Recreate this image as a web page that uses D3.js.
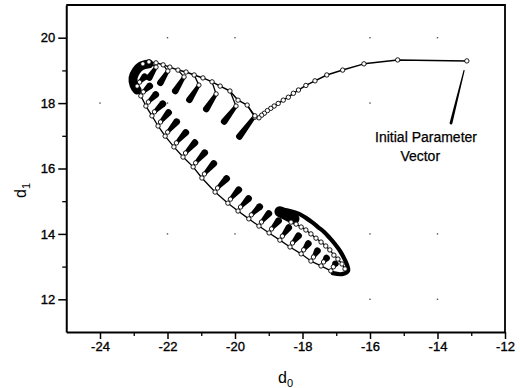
<!DOCTYPE html>
<html>
<head>
<meta charset="utf-8">
<script src="https://cdn.jsdelivr.net/npm/d3@7/dist/d3.min.js"></script>
<style>
  html, body { margin: 0; padding: 0; background: #fff; }
  svg { display: block; font-family: Arial, "Liberation Sans", sans-serif; }
</style>
</head>
<body>
<svg id="chart" width="520" height="388"></svg>
<script>

// Axis ticks
const xMajor = [-24, -22, -20, -18, -16, -14, -12],
      xMinor = [-23, -21, -19, -17, -15, -13],
      yMajor = [12, 14, 16, 18, 20],
      yMinor = [13, 15, 17, 19];

// Grid dots that show in the plot
const gridD0 = [-22, -20, -16, -14, -24, -22, -16, -22, -20, -16, -14, -16, -14],
      gridD1 = [20, 20, 20, 20, 18, 18, 18, 14, 14, 14, 14, 12, 12];

// Path from the initial parameter vector down to the oscillating region
const approachD0 = [-13.13, -15.18, -16.18, -16.81, -17.28, -17.63, -17.90, -18.12, -18.27, -18.42,
                    -18.57, -18.72, -18.84, -18.94, -19.04, -19.13, -19.21, -19.29];
const approachD1 = [19.29, 19.32, 19.20, 19.01, 18.86, 18.68, 18.54, 18.40, 18.30, 18.18,
                    18.09, 17.99, 17.91, 17.84, 17.77, 17.69, 17.63, 17.55];

// Upper edge of the big loop (open circles), right to left
const upperEdgeD0 = [-19.41, -19.64, -19.91, -20.15, -20.44, -20.68, -20.95, -21.21, -21.45, -21.69,
                     -21.93, -22.13, -22.34, -22.55, -22.73];
const upperEdgeD1 = [17.57, 17.94, 18.09, 18.37, 18.52, 18.65, 18.77, 18.86, 18.95, 19.01,
                     19.10, 19.17, 19.23, 19.26, 19.20];

// Upper teeth: top point, root of dense run, tip of dense run
const upperTopD0  = [-19.64, -20.15, -20.68, -21.21, -21.69, -22.13, -22.55];
const upperTopD1  = [17.94, 18.37, 18.65, 18.86, 19.01, 19.17, 19.26];
const upperRootD0 = [-19.41, -19.97, -20.56, -21.07, -21.51, -21.99, -22.34];
const upperRootD1 = [17.61, 17.91, 18.28, 18.55, 18.80, 18.98, 19.10];
const upperTipD0  = [-19.87, -20.32, -20.85, -21.35, -21.77, -22.21, -22.54];
const upperTipD1  = [16.98, 17.44, 17.82, 18.10, 18.37, 18.62, 18.78];

// Dense turn at the far left of the loop
const turnD0 = [-22.55, -22.79, -22.93, -23.02, -22.99, -22.90];
const turnD1 = [19.20, 19.13, 18.98, 18.77, 18.55, 18.40];

// Lower edge teeth: base (open circles) and tip of dense run
const lowerBaseD0 = [-22.90, -22.79, -22.64, -22.46, -22.28, -22.07, -21.81, -21.54, -21.24, -20.98, -20.59,
                     -20.21, -19.91, -19.59, -19.29, -18.99, -18.67, -18.37, -18.04, -17.75, -17.45, -17.16];
const lowerBaseD1 = [18.52, 18.22, 17.91, 17.61, 17.30, 16.99, 16.66, 16.35, 16.05, 15.71, 15.28,
                     14.94, 14.70, 14.46, 14.24, 14.03, 13.81, 13.60, 13.39, 13.17, 13.02, 12.87];
const lowerTipD0  = [-22.68, -22.53, -22.35, -22.14, -21.97, -21.73, -21.46, -21.19, -20.90, -20.63, -20.25,
                     -19.89, -19.60, -19.27, -19.00, -18.71, -18.41, -18.12, -17.83, -17.56, -17.29, -17.03];
const lowerTipD1  = [18.80, 18.52, 18.26, 17.98, 17.71, 17.43, 17.10, 16.79, 16.48, 16.15, 15.69,
                     15.35, 15.08, 14.83, 14.62, 14.40, 14.19, 13.94, 13.70, 13.48, 13.26, 13.08];

// Final narrow loop: dense outer band, head and returning open circles
const bandD0 = [-18.70, -18.37, -18.10, -17.90, -17.72, -17.54, -17.36, -17.19, -17.04, -16.89,
                -16.77, -16.68, -16.65, -16.83, -17.10];
const bandD1 = [14.76, 14.70, 14.61, 14.49, 14.36, 14.21, 14.06, 13.87, 13.69, 13.48,
                13.26, 13.05, 12.87, 12.77, 12.80];
const headD0 = [-18.67, -18.25];
const headD1 = [14.68, 14.46];
const returnD0 = [-16.74, -16.83, -16.95, -17.07, -17.19, -17.31, -17.45, -17.60, -17.75, -17.90,
                  -18.04, -18.19, -18.34];
const returnD1 = [12.93, 13.08, 13.23, 13.35, 13.51, 13.63, 13.75, 13.87, 14.00, 14.12,
                  14.21, 14.30, 14.36];

// Annotation
const noteLines = ["Initial Parameter", "Vector"];

const svg = d3.select("#chart");

const x = d3.scaleLinear().domain([-25, -12]).range([66.25, 505]),
      y = d3.scaleLinear().domain([11, 21]).range([332, 5]);

const zip = (a, b) => a.map((v, i) => [x(v), y(b[i])]);
const line = d3.line();

// Tapered dense run: thin at root, thick with a round end at the tip
function taper(r, t, w0, w1) {
    const dx = t[0] - r[0], dy = t[1] - r[1], len = Math.hypot(dx, dy) || 1;
    const nx = -dy / len, ny = dx / len;
    return `M${r[0] + nx * w0},${r[1] + ny * w0}L${t[0] + nx * w1},${t[1] + ny * w1}` +
           `A${w1},${w1} 0 1 0 ${t[0] - nx * w1},${t[1] - ny * w1}` +
           `L${r[0] - nx * w0},${r[1] - ny * w0}Z`;
}

// Grid dots
svg.append("g").selectAll("rect").data(zip(gridD0, gridD1)).enter().append("rect")
    .attr("x", d => d[0] - 0.7).attr("y", d => d[1] - 0.7)
    .attr("width", 1.4).attr("height", 1.4).attr("fill", "#555");

// Axes
const axisFont = g => g.attr("font-size", 13).attr("font-family", "Arial, 'Liberation Sans', sans-serif");
const inkText = g => g.selectAll("text").attr("fill", "#000").attr("stroke", "#000").attr("stroke-width", 0.35);

svg.append("g").attr("transform", `translate(0,${y(11)})`)
    .call(d3.axisBottom(x).tickValues(xMajor).tickSize(7).tickSizeOuter(0).tickPadding(3).tickFormat(d => String(d)))
    .call(axisFont)
    .call(g => g.select(".domain").attr("stroke-width", 2))
    .call(g => g.selectAll(".tick line").attr("stroke-width", 1.5))
    .call(inkText);
svg.append("g").attr("transform", `translate(0,${y(11)})`)
    .call(d3.axisBottom(x).tickValues(xMinor).tickSize(4).tickSizeOuter(0).tickFormat(""))
    .call(g => g.select(".domain").remove())
    .call(g => g.selectAll(".tick line").attr("stroke-width", 1.3));

svg.append("g").attr("transform", `translate(${x(-25)},0)`)
    .call(d3.axisLeft(y).tickValues(yMajor).tickSize(8).tickSizeOuter(0).tickPadding(3).tickFormat(d => String(d)))
    .call(axisFont)
    .call(g => g.select(".domain").attr("stroke-width", 2))
    .call(g => g.selectAll(".tick line").attr("stroke-width", 1.5))
    .call(inkText);
svg.append("g").attr("transform", `translate(${x(-25)},0)`)
    .call(d3.axisLeft(y).tickValues(yMinor).tickSize(4).tickSizeOuter(0).tickFormat(""))
    .call(g => g.select(".domain").remove())
    .call(g => g.selectAll(".tick line").attr("stroke-width", 1.3));

// Top and right frame
svg.append("path").attr("d", line([[x(-25), y(21)], [x(-12), y(21)], [x(-12), y(11)]]))
    .attr("fill", "none").attr("stroke", "#000").attr("stroke-width", 1.8);

// Axis titles
const xt = svg.append("text").attr("x", 278).attr("y", 383).attr("font-size", 16);
xt.append("tspan").text("d");
xt.append("tspan").attr("font-size", 11).attr("dy", 4).text("0");

const yt = svg.append("text").attr("transform", "translate(26,198) rotate(-90)").attr("font-size", 16);
yt.append("tspan").text("d");
yt.append("tspan").attr("font-size", 11).attr("dy", 4).text("1");

const plot = svg.append("g");
const thin = sel => sel.attr("fill", "none").attr("stroke", "#000").attr("stroke-linejoin", "round");

// Approach and upper edge as one thin line
const approach = zip(approachD0, approachD1),
      upperEdge = zip(upperEdgeD0, upperEdgeD1);
plot.append("path").attr("d", line(approach.concat(upperEdge))).call(thin).attr("stroke-width", 1.5);

// Upper teeth
const upperTop = zip(upperTopD0, upperTopD1),
      upperRoot = zip(upperRootD0, upperRootD1),
      upperTip = zip(upperTipD0, upperTipD1);
upperRoot.forEach((r, i) => {
    plot.append("path").attr("d", line([upperTop[i], r])).call(thin).attr("stroke-width", 1.3);
    plot.append("path").attr("d", taper(r, upperTip[i], 1.8, 3.3)).attr("fill", "#000");
});

// Dense turn
plot.append("path").attr("d", d3.line().curve(d3.curveCatmullRom)(zip(turnD0, turnD1)))
    .call(thin).attr("stroke-width", 9).attr("stroke-linecap", "round");

// Lower edge and its teeth
const lowerBase = zip(lowerBaseD0, lowerBaseD1),
      lowerTip = zip(lowerTipD0, lowerTipD1),
      lowerRoot = lowerBase.map(p => [p[0] + 2.5, p[1] - 4]);
plot.append("path").attr("d", line(lowerBase)).call(thin).attr("stroke-width", 1.3);
lowerBase.forEach((b, i) => {
    plot.append("path").attr("d", line([b, lowerRoot[i]])).call(thin).attr("stroke-width", 1.3);
    plot.append("path").attr("d", taper(lowerRoot[i], lowerTip[i], 1.8, 3.4)).attr("fill", "#000");
});

// Final narrow loop
const band = zip(bandD0, bandD1),
      ret = zip(returnD0, returnD1);
plot.append("path").attr("d", d3.line().curve(d3.curveCatmullRom)(band))
    .call(thin).attr("stroke-width", 4.2).attr("stroke-linecap", "round");
plot.append("path").attr("d", line(zip(headD0, headD1)))
    .call(thin).attr("stroke-width", 11).attr("stroke-linecap", "round");
plot.append("path").attr("d", line(ret)).call(thin).attr("stroke-width", 1.3);

// Open circles
const circles = approach.concat(upperEdge, upperRoot, lowerBase, lowerRoot, ret);
plot.selectAll("circle.pt").data(circles).enter().append("circle")
    .classed("pt", true)
    .attr("cx", d => d[0]).attr("cy", d => d[1]).attr("r", 2.2)
    .attr("fill", "#fff").attr("stroke", "#000").attr("stroke-width", 0.9);

// Annotation pointer and text
svg.append("path").attr("d", taper([x(-13.21), y(19.01)], [x(-13.60), y(17.39)], 0.6, 1.4)).attr("fill", "#000");
svg.append("text").attr("x", x(-15.85)).attr("y", y(16.81)).attr("font-size", 14)
    .attr("stroke", "#000").attr("stroke-width", 0.25).text(noteLines[0]);
svg.append("text").attr("x", x(-15.10)).attr("y", y(16.23)).attr("font-size", 14)
    .attr("stroke", "#000").attr("stroke-width", 0.25).text(noteLines[1]);

</script>
</body>
</html>
